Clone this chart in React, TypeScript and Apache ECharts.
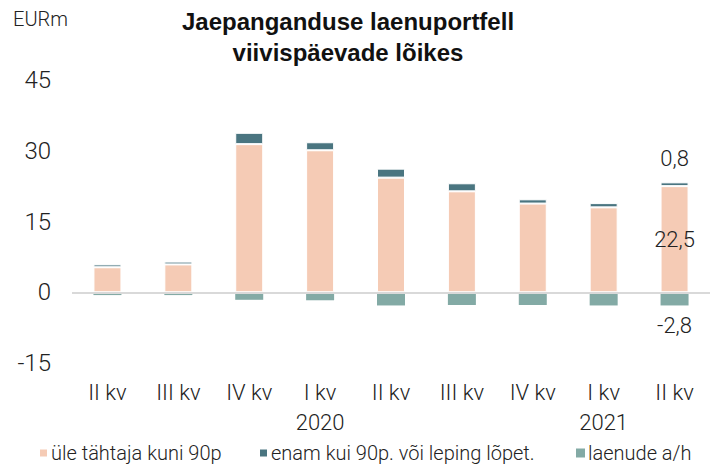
import React, { useEffect, useRef } from "react";
import * as echarts from "echarts";

const categories = ["II kv", "III kv", "IV kv", "I kv\n2020", "II kv", "III kv", "IV kv", "I kv\n2021", "II kv"];
const overdue90 = [5.3, 5.9, 31.4, 30.1, 24.3, 21.4, 18.8, 18.0, 22.5];
const over90 = [0.6, 0.6, 2.4, 1.7, 1.9, 1.7, 0.9, 0.9, 0.8];
const writeOffs = [-0.6, -0.6, -1.6, -1.7, -2.8, -2.7, -2.7, -2.8, -2.8];
const seriesNames = ["üle tähtaja kuni 90p", "enam kui 90p. või leping lõpet.", "laenude a/h"];
const yTicks = { min: -15, max: 45, interval: 15 };

const FONT = "Roboto";
const fmt = (v: number) => String(v).replace(".", ",");

function withLastLabel(values: number[], position: string, distance: number) {
  return values.map((v, i) =>
    i === values.length - 1
      ? {
          value: v,
          label: {
            show: true,
            position,
            distance,
            formatter: () => fmt(v),
            fontFamily: FONT,
            fontWeight: 300,
            fontSize: 22,
            color: "#222",
          },
        }
      : v
  );
}

export default function App() {
  const ref = useRef<HTMLDivElement>(null);
  useEffect(() => {
    if (!ref.current) return;
    const chart = echarts.init(ref.current, undefined, { renderer: "svg" });
    const itemBorder = { borderColor: "#ffffff", borderWidth: 1 };
    const legendText = { fontFamily: FONT, fontWeight: 300, fontSize: 20, lineHeight: 22, color: "#222", padding: [0, 0, 0, -2] };
    const legendLefts = [38, 258, 576];
    chart.setOption({
      animation: false,
      backgroundColor: "#ffffff",
      title: {
        text: "Jaepanganduse laenuportfell\nviivispäevade lõikes",
        left: 343,
        top: 1,
        textAlign: "center",
        textStyle: {
          fontFamily: "Liberation Sans",
          fontWeight: "bold",
          fontSize: 24,
          lineHeight: 31,
          color: "#111",
        },
      },
      graphic: [
        {
          type: "text",
          left: 13,
          top: 9,
          style: { text: "EURm", fontFamily: FONT, fontWeight: 300, fontSize: 20, fill: "#222" },
        },
      ],
      legend: seriesNames.map((name, i) => ({
        left: legendLefts[i],
        top: 442,
        padding: 0,
        icon: "rect",
        itemWidth: 9,
        itemHeight: 9,
        textStyle: legendText,
        data: [name],
      })),
      grid: { left: 72, width: 646, top: 80, height: 283 },
      xAxis: {
        type: "category",
        data: categories,
        axisLine: { show: false },
        axisTick: { show: false },
        axisLabel: {
          margin: 14,
          fontFamily: FONT,
          fontWeight: 300,
          fontSize: 22,
          lineHeight: 30,
          color: "#222",
        },
      },
      yAxis: {
        type: "value",
        min: yTicks.min,
        max: yTicks.max,
        interval: yTicks.interval,
        axisLine: { show: false },
        axisTick: { show: false },
        splitLine: { show: false },
        axisLabel: { margin: 21, fontFamily: FONT, fontWeight: 300, fontSize: 24, color: "#222" },
      },
      series: [
        {
          name: seriesNames[0],
          type: "bar",
          stack: "total",
          barWidth: 28,
          itemStyle: { color: "#f5cbb5", ...itemBorder },
          data: withLastLabel(overdue90, "inside", 0),
          markLine: {
            silent: true,
            symbol: "none",
            label: { show: false },
            lineStyle: { color: "#d9d9d9", width: 2, type: "solid" },
            data: [{ yAxis: 0 }],
          },
        },
        {
          name: seriesNames[1],
          type: "bar",
          stack: "total",
          barWidth: 28,
          itemStyle: { color: "#4a7580", ...itemBorder },
          data: withLastLabel(over90, "top", 13),
        },
        {
          name: seriesNames[2],
          type: "bar",
          stack: "total",
          barWidth: 28,
          itemStyle: { color: "#83aaa5", borderWidth: 0 },
          data: withLastLabel(writeOffs, "bottom", 9),
        },
      ],
    });
    return () => chart.dispose();
  }, []);
  return <div ref={ref} style={{ position: "absolute", left: 0, top: 0, width: 710, height: 466 }} />;
}
